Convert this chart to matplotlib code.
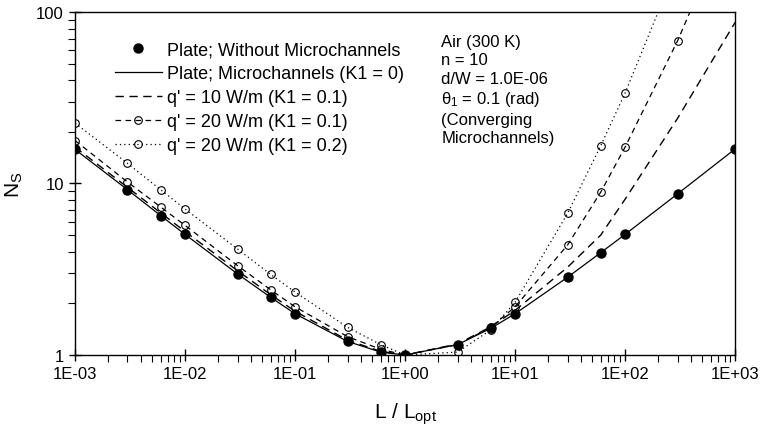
import numpy as np
import matplotlib
matplotlib.use('Agg')
import matplotlib.pyplot as plt
from matplotlib.ticker import FixedLocator, FixedFormatter, NullFormatter

plt.rcParams['font.family'] = ['Liberation Sans', 'DejaVu Sans']
plt.rcParams['mathtext.fontset'] = 'custom'
plt.rcParams['mathtext.rm'] = 'Liberation Sans'
plt.rcParams['mathtext.it'] = 'Liberation Sans:italic'

# L / L_opt
x = [1e-3, 3e-3, 6e-3, 1e-2, 3e-2, 6e-2, 0.1, 0.3, 0.6, 1, 3, 6, 10, 30, 60, 100, 300, 1000]
# N_S values
plate = [15.8, 9.2, 6.5, 5.05, 2.97, 2.17, 1.74, 1.20, 1.04, 1.0, 1.15, 1.43, 1.74, 2.84, 3.95, 5.05, 8.7, 15.9]
k1_0 = [15.8, 9.2, 6.5, 5.05, 2.97, 2.17, 1.74, 1.20, 1.04, 1.0, 1.15, 1.43, 1.74, 2.84, 3.95, 5.05, 8.7, 15.9]
q10_k01 = [16.3, 9.5, 6.75, 5.25, 3.1, 2.25, 1.8, 1.22, 1.05, 1.0, 1.16, 1.46, 1.82, 3.25, 5.0, 8.1, 24, 87]
q20_k01 = [17.8, 10.2, 7.3, 5.7, 3.32, 2.40, 1.91, 1.28, 1.08, 1.0, 1.15, 1.45, 1.91, 4.38, 8.9, 16.3, 68, 410]
q20_k02 = [22.5, 13.1, 9.2, 7.1, 4.15, 2.95, 2.33, 1.45, 1.15, 1.0, 1.04, 1.40, 2.03, 6.7, 16.6, 33.7, 190, 2500]

xticks = [1e-3, 1e-2, 1e-1, 1, 10, 100, 1000]
xticklabels = ['1E-03', '1E-02', '1E-01', '1E+00', '1E+01', '1E+02', '1E+03']
yticks = [1, 10, 100]
yticklabels = ['1', '10', '100']

fig = plt.figure(figsize=(7.65, 4.31), dpi=100)
ax = fig.add_axes([0.098, 0.174, 0.863, 0.796])

ax.plot(x, plate, ls='none', marker='o', ms=6.5, mfc='black', mec='black',
        label='Plate; Without Microchannels', zorder=5)
ax.plot(x, k1_0, color='black', lw=0.9, label='Plate; Microchannels (K1 = 0)')
ax.plot(x, q10_k01, color='black', lw=1.0, dashes=(6, 4), label="q' = 10 W/m (K1 = 0.1)")
ax.plot(x, q20_k01, color='black', lw=0.9, dashes=(4.5, 3.5), marker='o', ms=5.5,
        mfc='none', mec='black', mew=0.8, label="q' = 20 W/m (K1 = 0.1)")
ax.plot(x, q20_k02, color='black', lw=0.9, dashes=(1, 2.5), marker='o', ms=5.5,
        mfc='none', mec='black', mew=0.8, label="q' = 20 W/m (K1 = 0.2)")

ax.set_xscale('log')
ax.set_yscale('log')
ax.set_xlim(1e-3, 1e3)
ax.set_ylim(1, 100)

ax.xaxis.set_major_locator(FixedLocator(xticks))
ax.xaxis.set_major_formatter(FixedFormatter(xticklabels))
ax.xaxis.set_minor_locator(FixedLocator([m * 10.0**e for e in range(-3, 3) for m in range(2, 10)]))
ax.xaxis.set_minor_formatter(NullFormatter())
ax.yaxis.set_major_locator(FixedLocator(yticks))
ax.yaxis.set_major_formatter(FixedFormatter(yticklabels))
ax.yaxis.set_minor_locator(FixedLocator([m * 10.0**e for e in range(0, 2) for m in range(2, 10)]))
ax.yaxis.set_minor_formatter(NullFormatter())

ax.tick_params(which='major', direction='inout', length=9, width=1, labelsize=12, top=False, right=False)
ax.tick_params(which='minor', direction='out', length=5, width=0.8, top=False, right=False)
for s in ax.spines.values():
    s.set_linewidth(1.0)

ax.set_xlabel(r'L / L$_{\mathrm{opt}}$', fontsize=15, labelpad=14)
ax.set_ylabel(r'N$_{\mathrm{S}}$', fontsize=15, labelpad=8)

ax.legend(loc='upper left', bbox_to_anchor=(0.049, 0.935), frameon=False, fontsize=13,
          handlelength=2.65, handletextpad=0.28, labelspacing=0.38, borderaxespad=0)

ax.text(0.555, 0.935, 'Air (300 K)\nn = 10\nd/W = 1.0E-06\nθ$_1$ = 0.1 (rad)\n(Converging\nMicrochannels)',
        transform=ax.transAxes, fontsize=12, va='top', ha='left', linespacing=1.27)

fig.savefig('out.png', dpi=100)
